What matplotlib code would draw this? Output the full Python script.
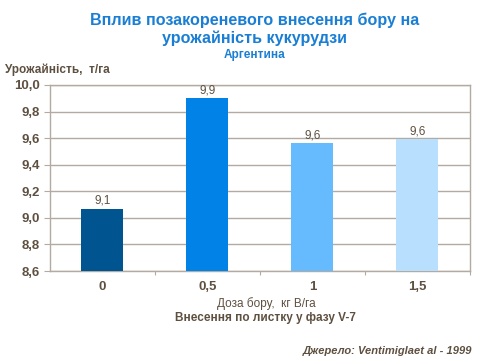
import matplotlib
matplotlib.use('Agg')
from matplotlib import pyplot as plt

plt.rcParams['font.family'] = ['Liberation Sans', 'DejaVu Sans']

doses = ['0', '0,5', '1', '1,5']
yields = [9.07, 9.90, 9.56, 9.59]
labels = ['9,1', '9,9', '9,6', '9,6']
colors = ['#00548f', '#0082e6', '#66bbff', '#b9dfff']
yticks = [8.6, 8.8, 9.0, 9.2, 9.4, 9.6, 9.8, 10.0]

text_c = '#5e5040'
grid_c = '#b3aba2'
title_c = '#1a7fd4'

fig = plt.figure(figsize=(4.8, 3.6), dpi=100)
ax = fig.add_axes([0.104, 0.247, 0.875, 0.517])

x = range(len(doses))
ax.bar(x, [v - 8.6 for v in yields], bottom=8.6, width=0.4, color=colors, zorder=3)
for i, v in enumerate(yields):
    ax.text(i, v + 0.015, labels[i], ha='center', va='bottom', fontsize=8.5,
            color=text_c)

ax.set_ylim(8.6, 10.0)
ax.set_xlim(-0.5, 3.5)
ax.set_yticks(yticks)
ax.set_yticklabels([f'{t:.1f}'.replace('.', ',') for t in yticks],
                   fontsize=9.5, fontweight='bold', color=text_c)
ax.yaxis.grid(True, color=grid_c, linewidth=1, zorder=0)
ax.set_xticks([0.5, 1.5, 2.5, 3.5])
ax.set_xticklabels([])
ax.set_xticks(list(x), minor=True)
ax.set_xticklabels(doses, minor=True, fontsize=9.5, fontweight='bold', color=text_c)
ax.tick_params(axis='x', which='minor', length=0, pad=7)
ax.tick_params(axis='x', which='major', length=3, color=grid_c)
ax.tick_params(axis='y', length=4, color=grid_c, pad=3)
for s in ax.spines.values():
    s.set_color(grid_c)
    s.set_linewidth(1)

fig.text(0.53, 0.945, 'Вплив позакореневого внесення бору на', ha='center', va='center',
         fontsize=11.6, fontweight='bold', color=title_c)
fig.text(0.53, 0.893, 'урожайність кукурудзи', ha='center', va='center',
         fontsize=11.6, fontweight='bold', color=title_c)
fig.text(0.53, 0.847, 'Аргентина', ha='center', va='center',
         fontsize=8.5, fontweight='bold', color=title_c)
fig.text(0.01, 0.805, 'Урожайність,  т/га', ha='left', va='center',
         fontsize=8.5, fontweight='bold', color=text_c)
fig.text(0.555, 0.158, 'Доза бору,  кг В/га', ha='center', va='center',
         fontsize=8.5, color=text_c)
fig.text(0.553, 0.116, 'Внесення по листку у фазу V-7', ha='center', va='center',
         fontsize=8.5, fontweight='bold', color=text_c)
fig.text(0.983, 0.025, 'Джерело: Ventimiglaet al - 1999', ha='right', va='center',
         fontsize=8, fontweight='bold', style='italic', color=text_c)

fig.savefig('out.png', dpi=100)
